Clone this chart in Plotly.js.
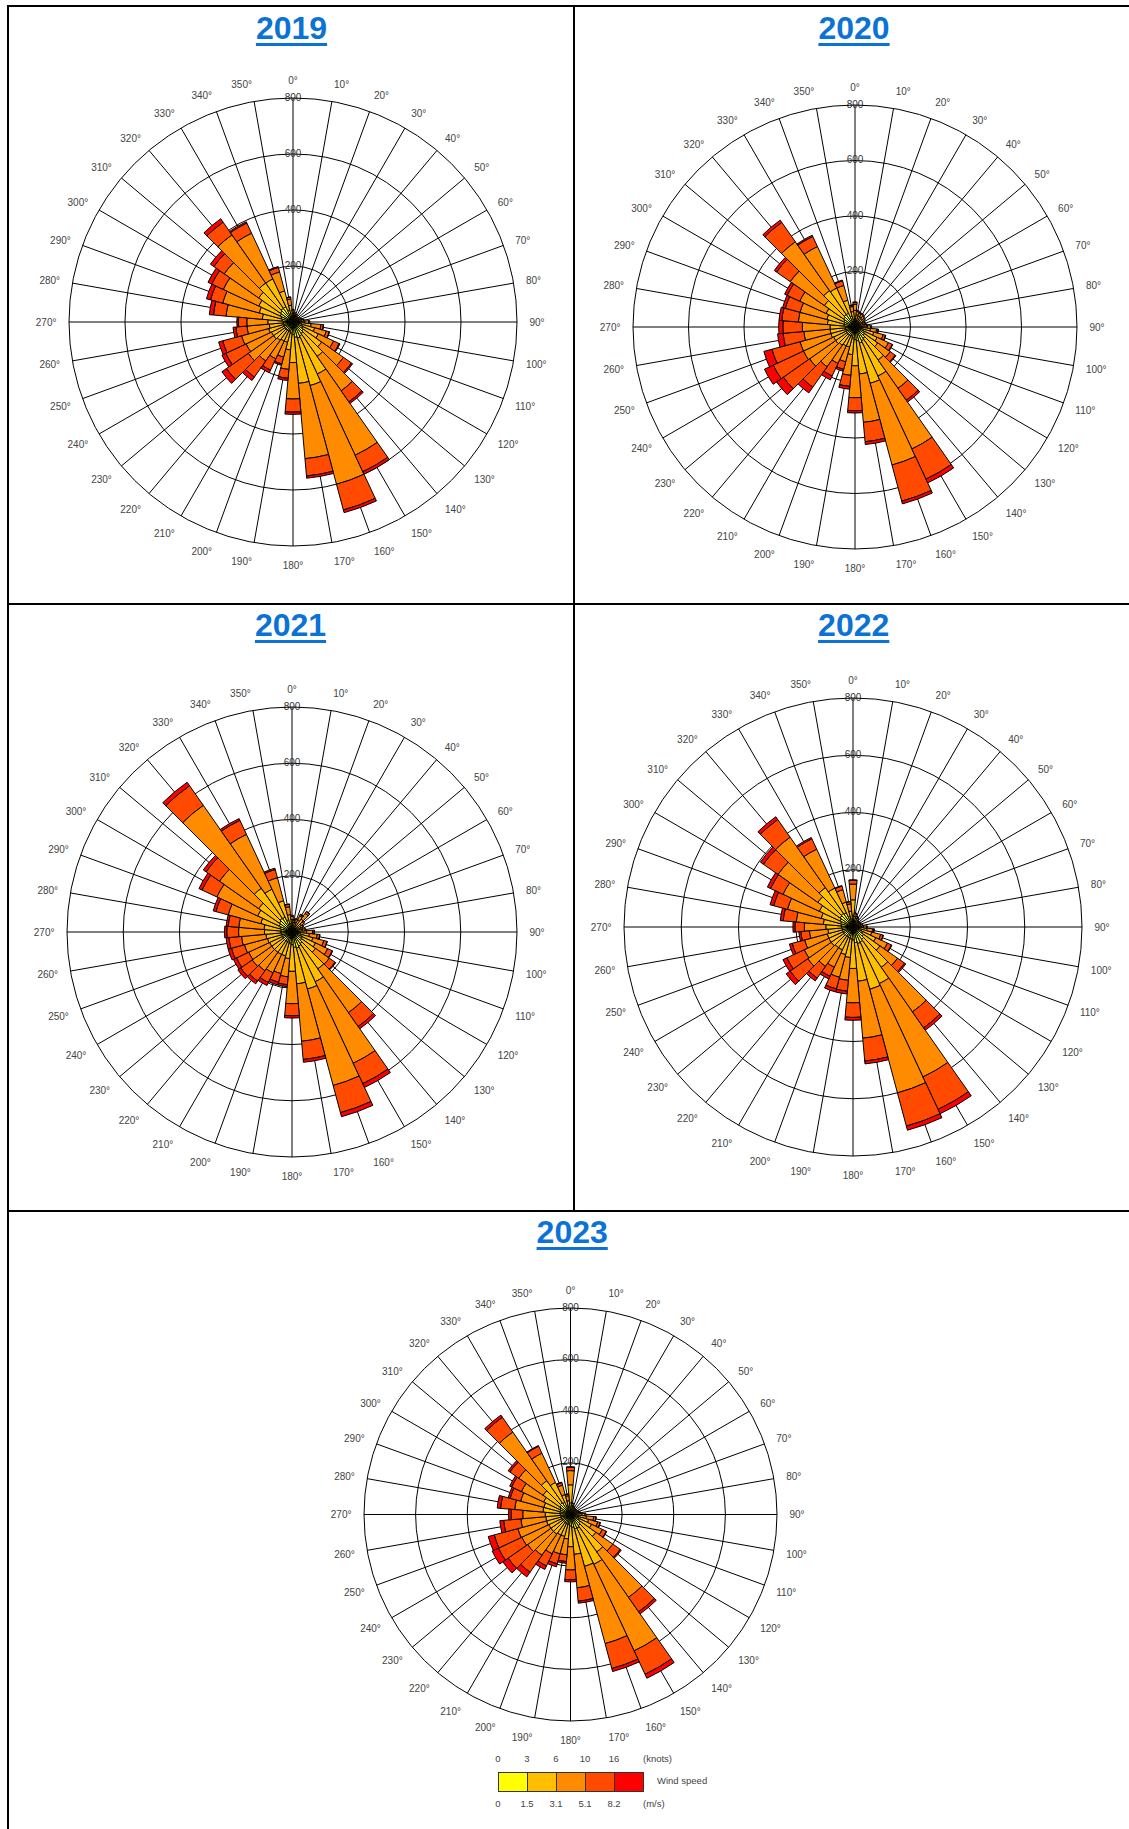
<!DOCTYPE html>
<html>
<head>
<meta charset="utf-8">
<script src="https://cdn.plot.ly/plotly-3.0.1.min.js"></script>
<style>
html,body{margin:0;padding:0;background:#fff;}
#page{position:relative;width:1129px;height:1829px;overflow:hidden;font-family:"Liberation Sans",Arial,sans-serif;}
.bd{position:absolute;background:#000;z-index:3;}
.ttl{position:absolute;font-weight:bold;font-size:32px;line-height:32px;color:#0b72d6;text-decoration:underline;text-decoration-thickness:3px;text-underline-offset:4px;width:200px;text-align:center;z-index:4;white-space:nowrap;}
.rose{position:absolute;z-index:1;}
.lgt{position:absolute;font-size:9.5px;line-height:10px;color:#444;white-space:nowrap;}
.lgb{position:absolute;box-sizing:border-box;border:1px solid #333;}
</style>
</head>
<body>
<div id="page"></div>
<script>
const FONT = '"Liberation Sans", Arial, sans-serif';

const years = ['2019', '2020', '2021', '2022', '2023'];
const directions = [0,10,20,30,40,50,60,70,80,90,100,110,120,130,140,150,160,170,180,190,200,210,220,230,240,250,260,270,280,290,300,310,320,330,340,350];
const speedBins = ['0-1.5 m/s', '1.5-3.1 m/s', '3.1-5.1 m/s', '5.1-8.2 m/s', '>8.2 m/s'];
const binColors = ['#ffff00', '#ffbf00', '#ff8c00', '#ff4a00', '#ff0000'];
const knotTicks = ['0', '3', '6', '10', '16'];
const msTicks = ['0', '1.5', '3.1', '5.1', '8.2'];
const radialTicks = [200, 400, 600, 800];
const legendTitle = 'Wind speed';

// ---- 2019 ----
const y2019_b1 = [20,18,16,15,14,14,15,16,18,22,30,35,40,45,50,55,60,55,45,40,35,35,35,35,35,35,35,35,40,45,50,55,60,60,45,30];
const y2019_b2 = [15,12,10,9,8,8,9,10,13,20,35,45,60,80,100,150,175,165,100,60,40,40,45,50,50,55,50,55,70,80,85,95,110,110,70,30];
const y2019_b3 = [8,5,4,4,3,3,4,5,7,14,35,43,60,95,150,320,365,270,130,70,55,70,90,110,100,100,80,75,130,135,140,150,210,180,70,22];
const y2019_b4 = [2,0,0,0,0,0,0,1,2,4,9,11,22,35,48,65,95,62,47,32,25,45,70,95,80,70,40,30,45,45,45,45,55,40,17,7];
const y2019_b5 = [0,0,0,0,0,0,0,0,0,0,1,1,3,5,7,10,10,8,8,8,5,10,15,20,15,15,10,5,15,15,15,15,15,5,3,1];

// ---- 2020 ----
const y2020_b1 = [30,24,22,22,21,20,18,18,20,24,28,32,38,42,50,55,60,50,45,40,35,35,35,35,35,35,35,35,40,40,45,50,55,55,40,28];
const y2020_b2 = [30,20,18,18,16,14,13,13,14,20,28,38,50,58,95,140,150,120,95,60,40,40,45,50,50,55,55,55,60,65,70,85,105,100,60,28];
const y2020_b3 = [22,12,11,11,10,9,7,7,9,12,22,35,45,55,125,290,305,175,115,75,55,70,95,115,120,115,95,100,105,100,105,150,215,165,55,18];
const y2020_b4 = [7,4,4,4,3,2,2,2,2,4,6,9,15,22,52,120,135,70,47,40,28,50,90,115,120,105,75,70,60,55,50,60,85,40,17,5];
const y2020_b5 = [1,0,0,0,0,0,0,0,0,0,1,1,2,3,8,15,10,10,8,10,7,15,25,30,35,30,20,15,10,10,10,10,10,5,3,1];

// ---- 2021 ----
const y2021_b1 = [24,20,21,25,28,22,20,18,21,26,30,35,40,42,50,55,60,55,45,40,38,38,38,38,38,38,38,40,40,45,50,55,60,58,45,30];
const y2021_b2 = [20,14,16,22,28,18,14,13,16,26,32,42,52,60,110,140,150,130,95,55,50,50,50,50,50,52,55,58,60,70,85,90,130,110,70,32];
const y2021_b3 = [12,9,10,17,25,11,9,7,10,21,28,40,48,60,190,320,355,205,115,65,65,72,80,85,82,85,87,92,90,120,160,170,360,215,85,28];
const y2021_b4 = [4,2,3,5,8,4,2,2,3,6,9,12,18,25,60,80,100,65,43,28,32,38,45,50,48,48,45,42,38,45,58,58,85,55,30,9];
const y2021_b5 = [0,0,0,1,1,0,0,0,0,1,1,1,2,3,10,15,15,10,8,7,10,12,12,12,12,12,10,8,7,10,12,12,15,7,5,1];

// ---- 2022 ----
const y2022_b1 = [40,21,18,17,16,16,16,16,17,21,26,32,38,45,52,58,60,55,45,42,40,38,38,38,38,38,38,40,42,45,50,55,58,55,38,28];
const y2022_b2 = [55,16,13,11,9,9,9,9,11,16,24,36,50,70,120,160,165,135,100,65,60,50,50,55,55,55,50,55,62,70,80,95,110,95,52,28];
const y2022_b3 = [55,10,7,6,5,5,5,5,6,10,19,32,45,75,190,360,375,200,120,80,82,67,80,100,95,82,65,75,95,122,140,170,215,150,45,25];
const y2022_b4 = [13,3,2,1,0,0,0,0,1,3,5,9,15,30,68,125,120,80,51,38,42,35,50,75,67,45,30,33,46,50,48,62,75,40,13,8];
const y2022_b5 = [2,0,0,0,0,0,0,0,0,0,1,1,2,5,10,17,15,10,10,10,11,10,12,17,15,10,7,7,10,13,12,13,12,5,2,1];

// ---- 2023 ----
const y2023_b1 = [45,20,17,16,16,16,16,17,18,24,30,33,38,45,52,58,58,50,45,40,38,38,38,38,38,38,38,40,42,42,45,50,55,52,35,28];
const y2023_b2 = [70,14,11,9,9,9,9,11,13,20,32,40,52,75,125,155,150,105,80,55,50,50,55,55,55,58,58,58,65,65,70,80,105,85,45,26];
const y2023_b3 = [55,9,6,5,5,5,5,6,7,12,28,36,46,80,215,370,310,130,90,62,70,80,100,110,115,115,97,87,110,93,95,115,230,125,38,19];
const y2023_b4 = [13,2,1,0,0,0,0,1,2,4,9,10,17,35,68,100,100,52,38,26,40,52,80,92,100,95,67,45,55,42,42,42,70,30,10,6];
const y2023_b5 = [2,0,0,0,0,0,0,0,0,0,1,1,2,5,10,17,12,8,8,7,12,15,22,25,27,24,15,10,13,8,8,8,10,3,2,1];

// tables built from the named arrays above
const roseData = {
  '2019': [y2019_b1, y2019_b2, y2019_b3, y2019_b4, y2019_b5],
  '2020': [y2020_b1, y2020_b2, y2020_b3, y2020_b4, y2020_b5],
  '2021': [y2021_b1, y2021_b2, y2021_b3, y2021_b4, y2021_b5],
  '2022': [y2022_b1, y2022_b2, y2022_b3, y2022_b4, y2022_b5],
  '2023': [y2023_b1, y2023_b2, y2023_b3, y2023_b4, y2023_b5]
};

// ---- page geometry (layout only) ----
const roseGeom = {
  '2019': {cx: 293, cy: 321.5, R: 224},
  '2020': {cx: 855.3, cy: 327.3, R: 222},
  '2021': {cx: 292.3, cy: 932, R: 225},
  '2022': {cx: 853.3, cy: 926.7, R: 229},
  '2023': {cx: 571, cy: 1515, R: 206.7}
};
const titleGeom = {
  '2019': {cx: 291.5, top: 11.5},
  '2020': {cx: 854, top: 11.5},
  '2021': {cx: 290.5, top: 609},
  '2022': {cx: 853.7, top: 609},
  '2023': {cx: 572.2, top: 1215.6}
};
const borders = [
  {l: 7, t: 5, w: 1122, h: 2},
  {l: 7, t: 5, w: 2, h: 1824},
  {l: 573, t: 5, w: 2, h: 1206},
  {l: 7, t: 603, w: 1122, h: 2},
  {l: 7, t: 1210, w: 1122, h: 2}
];

const page = document.getElementById('page');

borders.forEach(b => {
  const d = document.createElement('div');
  d.className = 'bd';
  d.style.left = b.l + 'px'; d.style.top = b.t + 'px';
  d.style.width = b.w + 'px'; d.style.height = b.h + 'px';
  page.appendChild(d);
});

years.forEach(y => {
  const g = titleGeom[y];
  const d = document.createElement('div');
  d.className = 'ttl';
  d.textContent = y;
  d.style.left = (g.cx - 100) + 'px';
  d.style.top = g.top + 'px';
  page.appendChild(d);
});

function makeRose(year) {
  const g = roseGeom[year];
  const pad = 46;
  const size = 2 * g.R + 2 * pad;
  const div = document.createElement('div');
  div.className = 'rose';
  div.style.left = (g.cx - g.R - pad) + 'px';
  div.style.top = (g.cy - g.R - pad) + 'px';
  div.style.width = size + 'px';
  div.style.height = size + 'px';
  page.appendChild(div);

  const traces = roseData[year].map((vals, i) => ({
    type: 'barpolar',
    r: vals,
    theta: directions,
    name: speedBins[i],
    marker: {color: binColors[i], line: {color: '#000', width: 1}},
    hoverinfo: 'skip'
  }));
  traces.push({
    type: 'scatterpolar',
    mode: 'text',
    r: radialTicks,
    theta: radialTicks.map(() => directions[0]),
    text: radialTicks.map(String),
    textposition: 'middle center',
    textfont: {family: FONT, size: 10, color: '#333'},
    cliponaxis: false,
    hoverinfo: 'skip',
    showlegend: false
  });

  const layout = {
    width: size, height: size, autosize: false,
    margin: {l: pad, r: pad, t: pad, b: pad, pad: 0},
    paper_bgcolor: 'rgba(0,0,0,0)',
    showlegend: false,
    font: {family: FONT},
    polar: {
      domain: {x: [0, 1], y: [0, 1]},
      bgcolor: '#ffffff',
      bargap: 0,
      barmode: 'stack',
      radialaxis: {
        range: [0, 800], tickvals: radialTicks, showticklabels: false, ticks: '',
        showline: false, gridcolor: '#000', gridwidth: 1, angle: 90, layer: 'above traces'
      },
      angularaxis: {
        rotation: 90, direction: 'clockwise',
        tickmode: 'array', tickvals: directions,
        ticktext: directions.map(d => d + '°'),
        ticks: 'outside', ticklen: 10, tickcolor: 'rgba(0,0,0,0)',
        showline: true, linecolor: '#000', linewidth: 1,
        gridcolor: '#000', gridwidth: 1,
        tickfont: {family: FONT, size: 10, color: '#444'},
        layer: 'above traces'
      }
    }
  };
  Plotly.newPlot(div, traces, layout, {staticPlot: true, displayModeBar: false});
}

years.forEach(makeRose);

// ---- wind speed legend ----
const lg = {left: 498, boxW: 29, boxTop: 1772, boxH: 20, knotsY: 1758.5, msY: 1803.5};
binColors.forEach((c, i) => {
  const b = document.createElement('div');
  b.className = 'lgb';
  b.style.left = (lg.left + i * lg.boxW) + 'px';
  b.style.top = lg.boxTop + 'px';
  b.style.width = (lg.boxW + 1) + 'px';
  b.style.height = lg.boxH + 'px';
  b.style.background = c;
  page.appendChild(b);
});
function lgText(txt, x, y, center) {
  const t = document.createElement('div');
  t.className = 'lgt';
  t.textContent = txt;
  t.style.top = (y - 5) + 'px';
  if (center) { t.style.left = (x - 20) + 'px'; t.style.width = '40px'; t.style.textAlign = 'center'; }
  else { t.style.left = x + 'px'; }
  page.appendChild(t);
}
knotTicks.forEach((k, i) => lgText(k, lg.left + i * lg.boxW, lg.knotsY, true));
msTicks.forEach((k, i) => lgText(k, lg.left + i * lg.boxW, lg.msY, true));
lgText('(knots)', lg.left + 5 * lg.boxW, lg.knotsY, false);
lgText('(m/s)', lg.left + 5 * lg.boxW, lg.msY, false);
lgText(legendTitle, 657, 1781, false);
</script>
</body>
</html>
